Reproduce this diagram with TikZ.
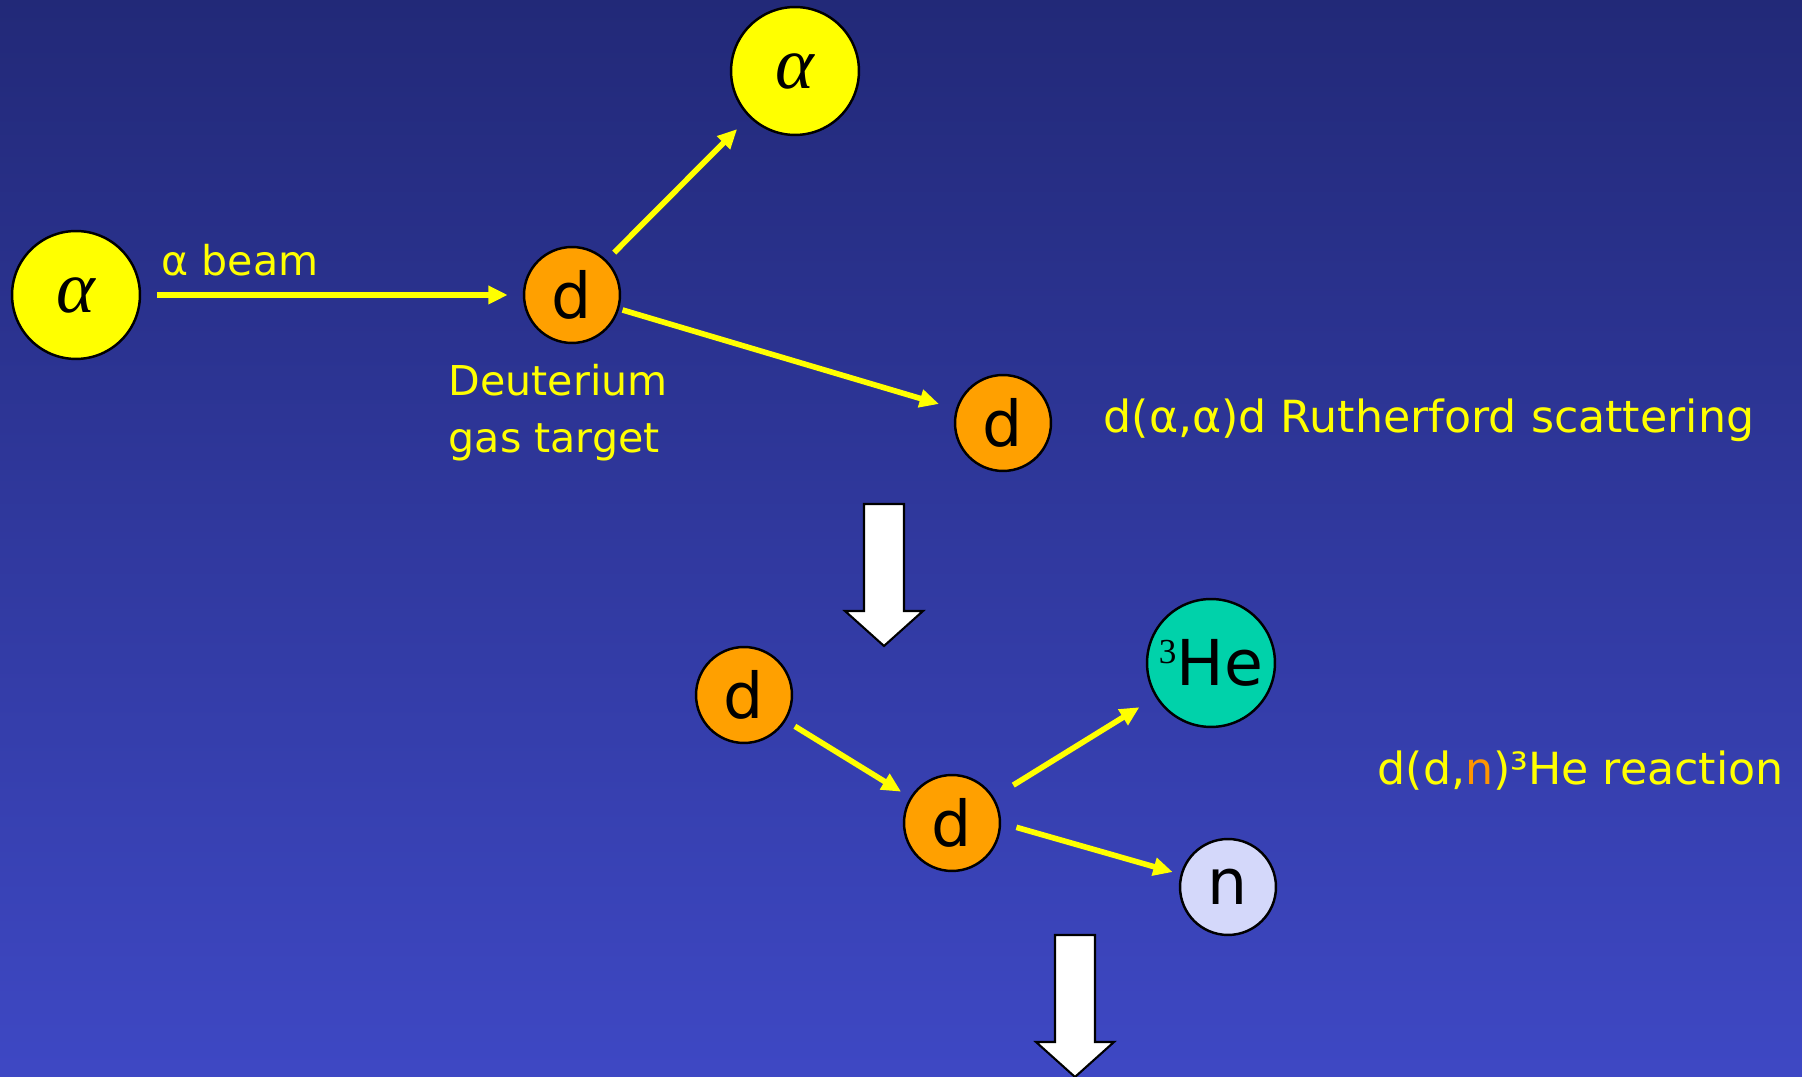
\documentclass[tikz,border=0pt]{standalone}
\usepackage{fontspec}
\setmainfont{DejaVu Sans}
\newfontfamily\greekserif{Liberation Serif}
\usepackage{tikz}
\usetikzlibrary{
	arrows.meta,
	positioning
}

\definecolor{bgtop}{RGB}{34,41,120}
\definecolor{bgbottom}{RGB}{62,72,196}
\definecolor{beamyellow}{RGB}{255,255,0}
\definecolor{deut}{RGB}{255,160,0}
\definecolor{helium}{RGB}{0,210,170}
\definecolor{neutral}{RGB}{212,216,250}
\definecolor{norange}{RGB}{255,150,0}

\begin{document}
\begin{tikzpicture}[
    x=0.1mm, y=-0.1mm,
    ball/.style={circle, draw=black, line width=0.7pt, inner sep=0pt, minimum size=27.3pt, font=\fontsize{18}{18}\selectfont},
    bigball/.style={ball, minimum size=36.4pt},
    greek/.style={font=\greekserif\itshape\fontsize{21}{21}\selectfont},
    arrow/.style={line width=1.6pt, draw=beamyellow, -{Triangle[length=5.5pt,width=5pt]}},
    note/.style={text=beamyellow, inner sep=0pt, font=\fontsize{11.7}{16.1}\selectfont},
    caption/.style={text=beamyellow, inner sep=0pt, anchor=base west, font=\fontsize{12.6}{15}\selectfont},
    bigarrow/.style={draw=black, fill=white, line width=0.6pt}
]

% Background
\shade[top color=bgtop, bottom color=bgbottom] (0,0) rectangle (1802,1077);
\useasboundingbox (0,0) rectangle (1802,1077);

% Nodes
\node[bigball, fill=beamyellow, greek] (alphain) at (76,295) {α};
\node[ball, fill=deut] (target) at (572,295) {d};
\node[bigball, fill=beamyellow, greek] (alphaout) at (795,71) {α};
\node[ball, fill=deut] (drecoil) at (1003,423) {d};

\node[ball, fill=deut] (dbeam) at (744,695) {d};
\node[ball, fill=deut] (dhit) at (952,823) {d};
\node[bigball, fill=helium] (helium3) at (1211,663) {\raisebox{6.3pt}{\greekserif\fontsize{10}{10}\selectfont 3}He};
\node[ball, fill=neutral] (neutron) at (1228,887) {n};

% Labels
\node[note, anchor=base west] (beamlabel) at (161,276) {α beam};
\node[note, anchor=north west, align=left] (targetlabel) at (448,364) {Deuterium\\gas target};
\node[caption] (rutherford) at (1103,433) {d(α,α)d Rutherford scattering};
\node[caption] (reaction) at (1377,785) {d(d,{\color{norange}n})³He reaction};

% Arrows
\draw[arrow, shorten <=4.5pt, shorten >=4.3pt] (alphain) -- (target);
\draw[arrow, shorten <=3pt, shorten >=4.8pt] (target) -- (alphaout);
\draw[arrow, shorten <=1pt, shorten >=5pt] (target) -- (drecoil);
\draw[arrow, shorten <=3pt, shorten >=3pt] (dbeam) -- (dhit);
\draw[arrow, shorten <=6.5pt, shorten >=5.4pt] (dhit) -- (helium3);
\draw[arrow, shorten <=4.5pt, shorten >=2.3pt] (dhit.east) -- (neutron.165);

% Block arrows between stages
\foreach \ax/\ay in {884/504, 1075/935}
    \draw[bigarrow] (\ax-20,\ay) -- (\ax+20,\ay) -- (\ax+20,\ay+107) -- (\ax+39,\ay+107)
        -- (\ax,\ay+142) -- (\ax-39,\ay+107) -- (\ax-20,\ay+107) -- cycle;

\end{tikzpicture}
\end{document}
